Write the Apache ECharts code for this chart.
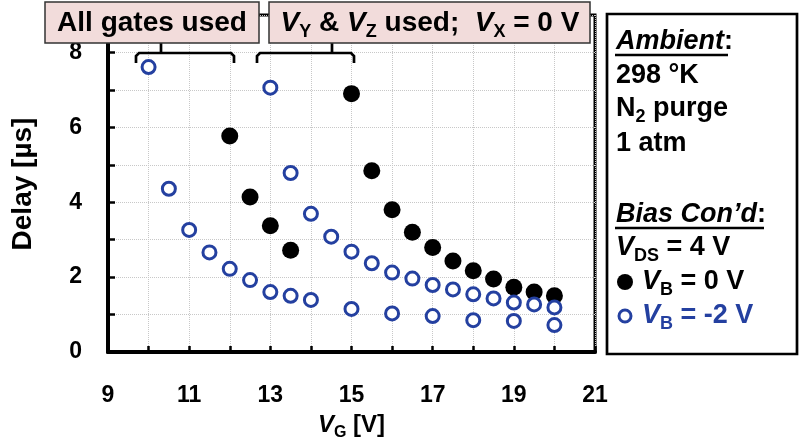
<!DOCTYPE html>
<html>
<head>
<meta charset="utf-8">
<script src="https://cdn.jsdelivr.net/npm/echarts@6/dist/echarts.min.js"></script>
<style>html,body{margin:0;padding:0;background:#fff}#c{width:799px;height:448px}</style>
</head>
<body>
<div id="c"></div>
<script>
// ---- data ----
const vgB0 = [12, 12.5, 13, 13.5, 15, 15.5, 16, 16.5, 17, 17.5, 18, 18.5, 19, 19.5, 20];
const delayB0 = [5.77, 4.14, 3.37, 2.72, 6.90, 4.84, 3.80, 3.20, 2.79, 2.43, 2.17, 1.95, 1.73, 1.60, 1.50];
const vgBm2 = [10, 10.5, 11, 11.5, 12, 12.5, 13, 13.5, 14,
               13, 13.5, 14, 14.5, 15, 15.5, 16, 16.5, 17, 17.5, 18, 18.5, 19, 19.5, 20,
               15, 16, 17, 18, 19, 20];
const delayBm2 = [7.61, 4.36, 3.26, 2.66, 2.22, 1.92, 1.60, 1.50, 1.39,
                  7.06, 4.78, 3.69, 3.08, 2.68, 2.37, 2.12, 1.96, 1.79, 1.67, 1.54, 1.43, 1.32, 1.27, 1.19,
                  1.15, 1.03, 0.96, 0.85, 0.83, 0.72];
const xTickLabels = [9, 11, 13, 15, 17, 19, 21];
const yTickLabels = [0, 2, 4, 6, 8];

const FONT = 'Liberation Sans, Arial, sans-serif';
const BLUE = '#2440A0';

const chart = echarts.init(document.getElementById('c'), null, {renderer: 'canvas'});

function richSet(size, color) {
  const sub = Math.round(size * 0.65);
  const lh = Math.round(size * 1.3);
  return {
    n: {fontSize: size, fontWeight: 'bold', fontFamily: FONT, fill: color, color: color, lineHeight: lh},
    i: {fontSize: size, fontWeight: 'bold', fontStyle: 'italic', fontFamily: FONT, fill: color, color: color, lineHeight: lh},
    s: {fontSize: sub, fontWeight: 'bold', fontFamily: FONT, fill: color, color: color, lineHeight: sub, verticalAlign: 'bottom'}
  };
}

function txt(x, y, text, size, color, align) {
  return {
    type: 'text', z: 20,
    style: {
      x: x, y: y, text: text, align: align || 'left', verticalAlign: 'middle',
      fontSize: size, fontWeight: 'bold', fontFamily: FONT, fill: color,
      rich: richSet(size, color)
    }
  };
}

const lineStyleBlk = {stroke: '#000', lineWidth: 2.7, fill: null};

const graphics = [
  // y axis title
  {type: 'text', z: 20, x: 23, y: 184, rotation: Math.PI / 2,
   style: {x: 0, y: 0, text: 'Delay [µs]', align: 'center', verticalAlign: 'middle',
           fontSize: 28, fontWeight: 'bold', fontFamily: FONT, fill: '#000'}},
  // annotation boxes
  {type: 'rect', z: 15, shape: {x: 45, y: 2, width: 214, height: 41},
   style: {fill: '#F2DCDB', stroke: '#333', lineWidth: 1.5}},
  {type: 'rect', z: 15, shape: {x: 269, y: 2, width: 321, height: 41},
   style: {fill: '#F2DCDB', stroke: '#333', lineWidth: 1.5}},
  txt(152, 23, '{n|All gates used}', 28, '#000', 'center'),
  txt(430, 23, '{i|V}{s|Y}{n| & }{i|V}{s|Z}{n| used;  }{i|V}{s|X}{n| = 0 V}', 28, '#000', 'center'),
  // brackets
  {type: 'polyline', z: 14, shape: {points: [[136, 63], [136, 56], [139, 53], [231, 53], [234, 56], [234, 63]]}, style: lineStyleBlk},
  {type: 'line', z: 14, shape: {x1: 161, y1: 53, x2: 161, y2: 43}, style: lineStyleBlk},
  {type: 'polyline', z: 14, shape: {points: [[257, 63], [257, 56], [260, 53], [351, 53], [354, 56], [354, 63]]}, style: lineStyleBlk},
  {type: 'line', z: 14, shape: {x1: 332, y1: 53, x2: 332, y2: 43}, style: lineStyleBlk},
  // legend box
  {type: 'rect', z: 15, shape: {x: 607, y: 14, width: 190, height: 340},
   style: {fill: '#fff', stroke: '#000', lineWidth: 2.7}},
  txt(616, 42, '{i|Ambient}{n|:}', 27, '#000'),
  {type: 'line', z: 20, shape: {x1: 615, y1: 55, x2: 728, y2: 55}, style: {stroke: '#000', lineWidth: 2.5}},
  txt(616, 76, '{n|298 °K}', 27, '#000'),
  txt(616, 109, '{n|N}{s|2}{n| purge}', 27, '#000'),
  txt(616, 144, '{n|1 atm}', 27, '#000'),
  txt(616, 215, '{i|Bias Con’d}{n|:}', 27, '#000'),
  {type: 'line', z: 20, shape: {x1: 615, y1: 228, x2: 764, y2: 228}, style: {stroke: '#000', lineWidth: 2.5}},
  txt(616, 248, '{i|V}{s|DS}{n| = 4 V}', 27, '#000'),
  {type: 'circle', z: 20, shape: {cx: 625, cy: 282, r: 8}, style: {fill: '#000'}},
  txt(642, 282, '{i|V}{s|B}{n| = 0 V}', 27, '#000'),
  {type: 'circle', z: 20, shape: {cx: 625, cy: 316, r: 6}, style: {fill: '#fff', stroke: BLUE, lineWidth: 3}},
  txt(642, 316, '{i|V}{s|B}{n| = -2 V}', 27, BLUE)
];

const gridLine = {show: true, lineStyle: {color: '#c8c8c8', width: 1, type: 'dotted'}};

const option = {
  backgroundColor: '#fff',
  animation: false,
  grid: {left: 108, right: 204, top: 15, bottom: 96, show: true, borderColor: '#000', borderWidth: 3, backgroundColor: 'transparent'},
  xAxis: {
    type: 'value', min: 9, max: 21, interval: 2,
    name: '{i|V}{s|G}{n| [V]}',
    nameLocation: 'middle', nameGap: 58,
    nameTextStyle: {fontSize: 24, fontWeight: 'bold', fontFamily: FONT, color: '#000', rich: richSet(24, '#000')},
    axisLine: {show: true, lineStyle: {color: '#000', width: 4}},
    axisTick: {show: true, inside: true, length: 6, lineStyle: {color: '#000', width: 2.5}},
    minorTick: {show: true, splitNumber: 2, length: 6, lineStyle: {color: '#000', width: 2.5}},
    axisLabel: {
      margin: 32, fontSize: 23, fontWeight: 'bold', fontFamily: FONT, color: '#000',
      formatter: v => (xTickLabels.indexOf(v) >= 0 ? String(v) : '')
    },
    splitLine: gridLine,
    minorSplitLine: gridLine
  },
  yAxis: {
    type: 'value', min: 0, max: 9, interval: 2,
    axisLine: {show: true, lineStyle: {color: '#000', width: 4}},
    axisTick: {show: true, inside: true, length: 7, lineStyle: {color: '#000', width: 2.5}},
    minorTick: {show: true, splitNumber: 2, length: 7, lineStyle: {color: '#000', width: 2.5}},
    axisLabel: {
      margin: 26, align: 'right', fontSize: 23, fontWeight: 'bold', fontFamily: FONT, color: '#000',
      formatter: v => (yTickLabels.indexOf(v) >= 0 ? String(v) : '')
    },
    splitLine: gridLine,
    minorSplitLine: gridLine
  },
  series: [
    {
      name: 'VB = 0 V', type: 'scatter', symbol: 'circle', symbolSize: 17, z: 3,
      itemStyle: {color: '#000', opacity: 1},
      data: vgB0.map((x, k) => [x, delayB0[k]])
    },
    {
      name: 'VB = -2 V', type: 'scatter', symbol: 'circle', symbolSize: 13, z: 4,
      itemStyle: {color: '#fff', borderColor: BLUE, borderWidth: 3, opacity: 1},
      data: vgBm2.map((x, k) => [x, delayBm2[k]])
    }
  ],
  graphic: graphics
};
chart.setOption(option);
</script>
</body>
</html>
